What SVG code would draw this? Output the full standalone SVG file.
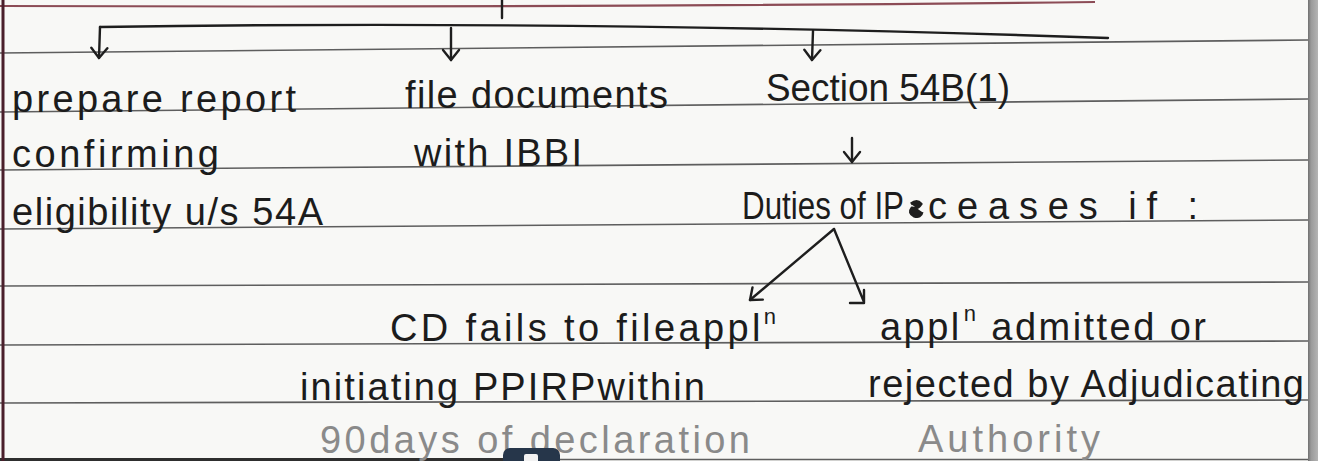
<svg xmlns="http://www.w3.org/2000/svg" width="1318" height="461" viewBox="0 0 1318 461">
  <style>
    .ink { font-family: "Liberation Sans", "DejaVu Sans", sans-serif; font-size: 38px; fill: #1c1c1c; }
    .faded { fill: #8a8a8a; }
    .sup { font-size: 22px; }
    .rule { stroke: #5e5e5e; stroke-width: 1.6; fill: none; }
    .pen { stroke: #1e1e1e; stroke-width: 2.4; fill: none; stroke-linecap: round; stroke-linejoin: round; }
  </style>
  <defs>
    <marker id="head" viewBox="-12 -10 14 20" markerUnits="userSpaceOnUse" markerWidth="14" markerHeight="20" refX="0" refY="0" orient="auto">
      <path d="M-10,-8 L0,0 L-10,8" fill="none" stroke="#1e1e1e" stroke-width="2.4" stroke-linecap="round" stroke-linejoin="round"/>
    </marker>
    <linearGradient id="edge" x1="0" x2="1" y1="0" y2="0">
      <stop offset="0" stop-color="#6f6f6f"/>
      <stop offset="0.3" stop-color="#9a9a9a"/>
      <stop offset="1" stop-color="#b4b4b4"/>
    </linearGradient>
  </defs>

  <!-- paper -->
  <rect width="1318" height="461" fill="#f8f8f6"/>

  <!-- ruled lines -->
  <g id="paper-lines">
    <line class="rule" x1="0" y1="53" x2="1308" y2="40"/>
    <line class="rule" x1="0" y1="112" x2="1308" y2="99"/>
    <line class="rule" x1="0" y1="170" x2="1308" y2="160"/>
    <line class="rule" x1="0" y1="229" x2="1308" y2="220"/>
    <line class="rule" x1="0" y1="286" x2="1308" y2="282"/>
    <line class="rule" x1="0" y1="345" x2="1308" y2="341"/>
    <line class="rule" x1="0" y1="403" x2="1308" y2="400"/>
    <line x1="0" y1="459.5" x2="505" y2="459.5" stroke="#2e2e2e" stroke-width="3"/>
    <line class="rule" x1="560" y1="459.5" x2="1308" y2="459.5"/>
    <!-- top margin line -->
    <path d="M0,6 Q540,8 1095,2" fill="none" stroke="#8c4c56" stroke-width="2.2"/>
    <!-- left margin -->
    <line x1="3" y1="0" x2="3" y2="461" stroke="#4a1f2b" stroke-width="3"/>
    <!-- right page edge -->
    <rect x="1308" y="0" width="10" height="461" fill="url(#edge)"/>
  </g>

  <!-- connectors -->
  <g id="connectors">
    <line class="pen" x1="502" y1="0" x2="502" y2="18"/>
    <path class="pen" d="M100,27 C420,22 760,26 1108,38"/>
    <path class="pen" d="M100,27 L99,58" marker-end="url(#head)"/>
    <path class="pen" d="M451,28 L451,60" marker-end="url(#head)"/>
    <path class="pen" d="M813,31 L812,60" marker-end="url(#head)"/>
    <path class="pen" d="M852,138 L852,162" marker-end="url(#head)"/>
    <path class="pen" d="M834,229 L750,300" marker-end="url(#head)"/>
    <path class="pen" d="M834,229 L864,302 M864,290 L864,303 L850,303"/>
  </g>

  <g id="node-report">
    <text class="ink" x="12" y="112" textLength="284" lengthAdjust="spacing">prepare report</text>
    <text class="ink" x="12" y="167" textLength="207" lengthAdjust="spacing">confirming</text>
    <text class="ink" x="12" y="225" textLength="311" lengthAdjust="spacing">eligibility u/s 54A</text>
  </g>

  <g id="node-file">
    <text class="ink" x="405" y="108" textLength="263" lengthAdjust="spacing">file documents</text>
    <text class="ink" x="414" y="166" textLength="168" lengthAdjust="spacing">with IBBI</text>
  </g>

  <g id="node-section">
    <text class="ink" x="766" y="101" textLength="244" lengthAdjust="spacingAndGlyphs">Section 54B(1)</text>
  </g>

  <g id="node-duties">
    <text class="ink" x="742" y="219" textLength="162" lengthAdjust="spacingAndGlyphs">Duties of IP</text>
    <!-- struck-out letter -->
    <path d="M911,204 q6,-5 10,0 q-3,5 -9,4 q-4,5 2,8 q7,2 8,-4" fill="#1e1e1e" stroke="#1e1e1e" stroke-width="3"/>
    <text class="ink" x="928" y="219" textLength="270" lengthAdjust="spacing">ceases if :</text>
  </g>

  <g id="node-fails">
    <text class="ink" x="390" y="341" textLength="386" lengthAdjust="spacing">CD fails to fileappl<tspan class="sup" dy="-17">n</tspan></text>
    <text class="ink" x="300" y="400" textLength="405" lengthAdjust="spacing">initiating PPIRPwithin</text>
    <text class="ink faded" x="320" y="453" textLength="430" lengthAdjust="spacing">90days of declaration</text>
  </g>

  <g id="node-admitted">
    <text class="ink" x="880" y="340" textLength="326" lengthAdjust="spacing">appl<tspan class="sup" dx="2" dy="-19">n</tspan><tspan dy="19"> admitted or</tspan></text>
    <text class="ink" x="868" y="397" textLength="436" lengthAdjust="spacing">rejected by Adjudicating</text>
    <text class="ink faded" x="918" y="452" textLength="182" lengthAdjust="spacing">Authority</text>
  </g>

  <!-- overlay button at the bottom edge -->
  <g id="overlay-button">
    <rect x="503" y="448" width="57" height="22" rx="7" fill="#26364a"/>
    <rect x="524" y="454" width="14" height="10" rx="2" fill="#f2f2f2"/>
  </g>
</svg>
